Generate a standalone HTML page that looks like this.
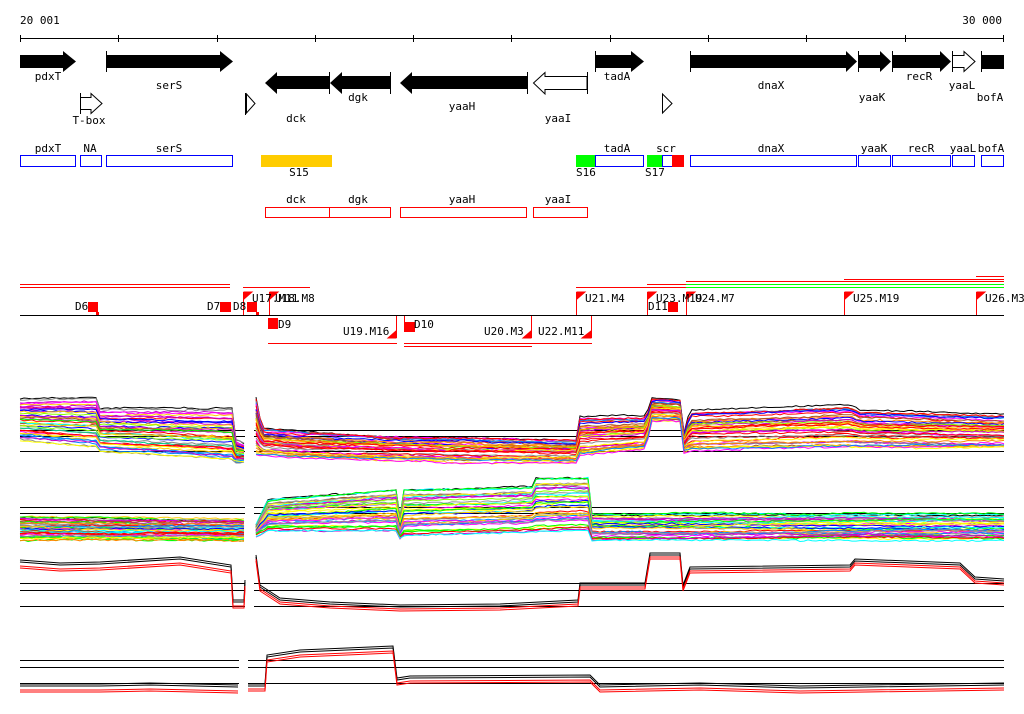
<!DOCTYPE html>
<html><head><meta charset="utf-8"><style>
html,body{margin:0;padding:0;background:#fff}
svg{display:block}
text{font-family:"DejaVu Sans Mono","Liberation Mono",monospace;font-size:11px;fill:#000}
</style></head><body>
<svg id="s" width="1024" height="714" viewBox="0 0 1024 714" xmlns="http://www.w3.org/2000/svg">
<text x="20" y="24">20 001</text>
<text x="1002" y="24" text-anchor="end">30 000</text>
<line x1="20" y1="38.5" x2="1004" y2="38.5" stroke="#000"/>
<g stroke="#000">
<line x1="20.5" y1="35" x2="20.5" y2="42"/><line x1="118.5" y1="35" x2="118.5" y2="42"/><line x1="217.5" y1="35" x2="217.5" y2="42"/><line x1="315.5" y1="35" x2="315.5" y2="42"/><line x1="413.5" y1="35" x2="413.5" y2="42"/><line x1="511.5" y1="35" x2="511.5" y2="42"/><line x1="610.5" y1="35" x2="610.5" y2="42"/><line x1="708.5" y1="35" x2="708.5" y2="42"/><line x1="806.5" y1="35" x2="806.5" y2="42"/><line x1="905.5" y1="35" x2="905.5" y2="42"/><line x1="1003.5" y1="35" x2="1003.5" y2="42"/>
</g>
<g fill="#000">
<polygon points="20,55 63,55 63,51 76,61.5 63,72 63,68 20,68"/>
<polygon points="106,55 220,55 220,51 233,61.5 220,72 220,68 106,68"/>
<polygon points="595,55 631,55 631,51 644,61.5 631,72 631,68 595,68"/>
<polygon points="690,55 846,55 846,51 857,61.5 846,72 846,68 690,68"/>
<polygon points="858,55 880,55 880,51 891,61.5 880,72 880,68 858,68"/>
<polygon points="892,55 940,55 940,51 951,61.5 940,72 940,68 892,68"/>
<rect x="981" y="55" width="23" height="14"/>
<polygon points="265,83 277,72 277,76 329,76 329,89 277,89 277,94"/>
<polygon points="330,83 342,72 342,76 390,76 390,89 342,89 342,94"/>
<polygon points="400,83 412,72 412,76 527,76 527,89 412,89 412,94"/>
</g>
<g stroke="#000" fill="none">
<line x1="106.5" y1="51" x2="106.5" y2="72"/><line x1="595.5" y1="51" x2="595.5" y2="72"/><line x1="690.5" y1="51" x2="690.5" y2="72"/><line x1="858.5" y1="51" x2="858.5" y2="72"/><line x1="892.5" y1="51" x2="892.5" y2="72"/><line x1="981.5" y1="51" x2="981.5" y2="72"/>
<line x1="329.5" y1="72" x2="329.5" y2="94"/><line x1="390.5" y1="72" x2="390.5" y2="94"/><line x1="527.5" y1="72" x2="527.5" y2="94"/><line x1="587.5" y1="72" x2="587.5" y2="94"/>
<polygon points="533.5,83 545,72.5 545,76.5 587,76.5 587,89.5 545,89.5 545,94" fill="#fff"/>
<polygon points="952.5,55.5 964,55.5 964,51.5 975,61.5 964,71.5 964,67.5 952.5,67.5" fill="#fff"/>
<polygon points="80.5,97.5 91,97.5 91,93.5 102,103.5 91,113.5 91,109.5 80.5,109.5" fill="#fff"/>
<line x1="80.5" y1="93" x2="80.5" y2="114"/><line x1="952.5" y1="51" x2="952.5" y2="72"/>
<polygon points="246.5,94 255,103.5 246.5,113" fill="#fff"/><line x1="245.5" y1="93" x2="245.5" y2="115"/>
<polygon points="662.5,94 672,103.5 662.5,113" fill="#fff"/>
</g>
<g text-anchor="middle">
<text x="48" y="80">pdxT</text><text x="169" y="89">serS</text><text x="89" y="124">T-box</text>
<text x="296" y="122">dck</text><text x="358" y="101">dgk</text><text x="462" y="110">yaaH</text><text x="558" y="122">yaaI</text>
<text x="617" y="80">tadA</text><text x="771" y="89">dnaX</text><text x="872" y="101">yaaK</text><text x="919" y="80">recR</text><text x="962" y="89">yaaL</text><text x="990" y="101">bofA</text>
</g>
<g fill="none" stroke="#00f">
<rect x="20.5" y="155.5" width="55" height="11"/><rect x="80.5" y="155.5" width="21" height="11"/><rect x="106.5" y="155.5" width="126" height="11"/>
<rect x="595.5" y="155.5" width="48" height="11"/><rect x="662.5" y="155.5" width="21" height="11"/><rect x="690.5" y="155.5" width="166" height="11"/>
<rect x="858.5" y="155.5" width="32" height="11"/><rect x="892.5" y="155.5" width="58" height="11"/><rect x="952.5" y="155.5" width="22" height="11"/><rect x="981.5" y="155.5" width="22" height="11"/>
</g>
<rect x="261" y="155" width="71" height="12" fill="#fc0"/>
<rect x="576" y="155" width="19" height="12" fill="#0f0"/>
<rect x="647" y="155" width="15" height="12" fill="#0f0"/>
<rect x="672" y="155" width="12" height="12" fill="#f00"/>
<g text-anchor="middle">
<text x="48" y="152">pdxT</text><text x="90" y="152">NA</text><text x="169" y="152">serS</text><text x="299" y="176">S15</text>
<text x="617" y="152">tadA</text><text x="666" y="152">scr</text><text x="771" y="152">dnaX</text><text x="874" y="152">yaaK</text><text x="921" y="152">recR</text><text x="963" y="152">yaaL</text><text x="991" y="152">bofA</text>
<text x="296" y="203">dck</text><text x="358" y="203">dgk</text><text x="462" y="203">yaaH</text><text x="558" y="203">yaaI</text>
</g>
<text x="576" y="176">S16</text><text x="645" y="176">S17</text>
<g fill="none" stroke="#f00">
<rect x="265.5" y="207.5" width="64" height="10"/><rect x="329.5" y="207.5" width="61" height="10"/><rect x="400.5" y="207.5" width="126" height="10"/><rect x="533.5" y="207.5" width="54" height="10"/>
</g>
<line x1="20" y1="315.5" x2="1004" y2="315.5" stroke="#000"/>
<g stroke="#f00">
<line x1="20" y1="284.5" x2="230" y2="284.5"/><line x1="20" y1="287.5" x2="230" y2="287.5"/>
<line x1="243" y1="287.5" x2="310" y2="287.5"/>
<line x1="576" y1="287.5" x2="686" y2="287.5"/><line x1="647" y1="284.5" x2="686" y2="284.5"/>
<line x1="686" y1="281.5" x2="1004" y2="281.5"/><line x1="844" y1="279.5" x2="1004" y2="279.5"/><line x1="976" y1="276.5" x2="1004" y2="276.5"/>
<line x1="268" y1="343.5" x2="397" y2="343.5"/><line x1="404" y1="343.5" x2="532" y2="343.5"/><line x1="404" y1="346.5" x2="532" y2="346.5"/><line x1="532" y1="343.5" x2="592" y2="343.5"/>
</g>
<g stroke="#0f0"><line x1="686" y1="284.5" x2="1004" y2="284.5"/><line x1="686" y1="287.5" x2="1004" y2="287.5"/></g>
<g fill="#f00">
<rect x="88" y="302" width="10" height="10"/><rect x="96" y="312" width="3" height="3"/>
<rect x="220" y="302" width="11" height="10"/><rect x="247" y="302" width="10" height="10"/><rect x="256" y="312" width="3" height="3"/>
<rect x="268" y="318" width="10" height="11"/><rect x="404" y="322" width="11" height="10"/><rect x="668" y="302" width="10" height="10"/>
</g>
<g stroke="#f00" fill="#f00">
<line x1="243.5" y1="292" x2="243.5" y2="315"/><polygon points="244,292 252,292 244,299"/>
<line x1="269.5" y1="292" x2="269.5" y2="315"/><polygon points="270,292 278,292 270,299"/>
<line x1="576.5" y1="292" x2="576.5" y2="315"/><polygon points="577,292 585,292 577,299"/>
<line x1="647.5" y1="292" x2="647.5" y2="315"/><polygon points="648,292 656,292 648,299"/>
<line x1="686.5" y1="292" x2="686.5" y2="315"/><polygon points="687,292 695,292 687,299"/>
<line x1="844.5" y1="292" x2="844.5" y2="315"/><polygon points="845,292 853,292 845,299"/>
<line x1="976.5" y1="292" x2="976.5" y2="315"/><polygon points="977,292 985,292 977,299"/>
<line x1="396.5" y1="316" x2="396.5" y2="338"/><polygon points="396,331 396,338 388,338"/>
<line x1="531.5" y1="316" x2="531.5" y2="338"/><polygon points="531,331 531,338 523,338"/>
<line x1="591.5" y1="316" x2="591.5" y2="338"/><polygon points="591,331 591,338 582,338"/>
<line x1="404.5" y1="316" x2="404.5" y2="324"/>
</g>
<g>
<text x="75" y="310">D6</text><text x="207" y="310">D7</text><text x="233" y="310">D8</text>
<text x="252" y="302">U17.M11</text><text x="275" y="302">U18.M8</text>
<text x="278" y="328">D9</text><text x="343" y="335">U19.M16</text><text x="414" y="328">D10</text><text x="484" y="335">U20.M3</text><text x="538" y="335">U22.M11</text>
<text x="585" y="302">U21.M4</text><text x="656" y="302">U23.M19</text><text x="695" y="302">U24.M7</text><text x="853" y="302">U25.M19</text><text x="985" y="302">U26.M3</text><text x="648" y="310">D11</text>
</g>
<g stroke="#000">
<line x1="20" y1="430.5" x2="245" y2="430.5"/><line x1="20" y1="436.5" x2="245" y2="436.5"/><line x1="20" y1="451.5" x2="245" y2="451.5"/>
<line x1="254" y1="430.5" x2="1004" y2="430.5"/><line x1="254" y1="436.5" x2="1004" y2="436.5"/><line x1="254" y1="451.5" x2="1004" y2="451.5"/>
<line x1="20" y1="507.5" x2="245" y2="507.5"/><line x1="20" y1="513.5" x2="245" y2="513.5"/><line x1="254" y1="507.5" x2="1004" y2="507.5"/><line x1="254" y1="513.5" x2="1004" y2="513.5"/>
<line x1="20" y1="583.5" x2="245" y2="583.5"/><line x1="20" y1="590.5" x2="245" y2="590.5"/><line x1="20" y1="606.5" x2="245" y2="606.5"/>
<line x1="254" y1="583.5" x2="1004" y2="583.5"/><line x1="254" y1="590.5" x2="1004" y2="590.5"/><line x1="254" y1="606.5" x2="1004" y2="606.5"/>
<line x1="20" y1="660.5" x2="239" y2="660.5"/><line x1="20" y1="667.5" x2="239" y2="667.5"/><line x1="20" y1="683.5" x2="239" y2="683.5"/>
<line x1="248" y1="660.5" x2="1004" y2="660.5"/><line x1="248" y1="667.5" x2="1004" y2="667.5"/><line x1="248" y1="683.5" x2="1004" y2="683.5"/>
</g>
<g id="plots" fill="none"></g>
</svg>
<script>
(function(){
var g=document.getElementById('plots'),NS='http://www.w3.org/2000/svg';
var seed=7;function r(){seed=(seed*16807)%2147483647;return seed/2147483647;}
var cols=['#f00','#0f0','#00f','#f0f','#0ff','#ff0','#f80','#888','#8f0','#08f','#a52','#c0c','#0c8','#fc0','#999'];
function interp(p,x){for(var i=0;i<p.length-1;i++){if(x>=p[i][0]&&x<=p[i+1][0]){var a=p[i],b=p[i+1];if(b[0]==a[0])return b[1];return a[1]+(b[1]-a[1])*(x-a[0])/(b[0]-a[0]);}}return p[p.length-1][1];}
function line(pts,c){var e=document.createElementNS(NS,'polyline');e.setAttribute('points',pts);e.setAttribute('stroke',c);e.setAttribute('stroke-width','1');g.appendChild(e);}
function band(segs,n){segs.forEach(function(s){var top=s[0],bot=s[1],x0=top[0][0],x1=top[top.length-1][0];
for(var k=0;k<n;k++){var f=k/(n-1);var pts=[];var j=(r()-0.5)*3;for(var x=x0;x<=x1;x+=4){var xx=Math.min(x,x1);var y=interp(top,xx)*(1-f)+interp(bot,xx)*f+j+(r()-0.5)*1.5;pts.push(xx+','+y.toFixed(1));if(r()<0.1)j+=(r()-0.5)*2;}
line(pts.join(' '),k==0?'#000':cols[Math.floor(r()*cols.length)]);}});}
band([
[[[20,400],[97,399],[98,410],[232,410],[234,440],[245,445]],[[20,440],[97,447],[98,452],[232,460],[234,462],[245,462]]],
[[[256,397],[262,428],[400,436],[578,440],[579,416],[647,416],[650,398],[680,400],[682,440],[690,410],[850,405],[860,410],[1004,415]],[[256,455],[300,458],[480,462],[578,462],[579,455],[647,448],[650,420],[680,420],[682,452],[690,450],[850,448],[1004,448]]]
],40);
band([
[[[20,517],[245,520]],[[20,540],[245,540]]],
[[[256,525],[268,500],[397,490],[399,530],[402,490],[532,487],[534,478],[590,478],[592,515],[1004,515]],[[256,536],[268,530],[397,530],[399,540],[402,535],[590,530],[592,540],[1004,540]]]
],40);
function pair(p,dy,cb,cr){line(p.map(function(a){return a[0]+','+a[1]}).join(' '),cb);line(p.map(function(a){return a[0]+','+(a[1]+2)}).join(' '),cb);
line(p.map(function(a){return a[0]+','+(a[1]+dy)}).join(' '),cr);line(p.map(function(a){return a[0]+','+(a[1]+dy+2)}).join(' '),cr);}
pair([[20,560],[60,563],[100,562],[180,557],[231,565],[233,600],[244,600],[245,580]],6,'#000','#f00');
pair([[256,555],[260,585],[280,598],[330,602],[400,605],[500,604],[578,600],[580,583],[645,583],[650,553],[680,553],[683,585],[690,567],[850,565],[855,559],[960,563],[975,577],[1004,579]],4,'#000','#f00');
pair([[20,684],[100,684],[150,683],[238,685]],6,'#000','#f00');
pair([[248,684],[265,684],[267,655],[300,650],[393,646],[397,678],[410,676],[590,675],[600,685],[700,683],[800,686],[1004,683]],5,'#000','#f00');
})();
</script>
</body></html>
